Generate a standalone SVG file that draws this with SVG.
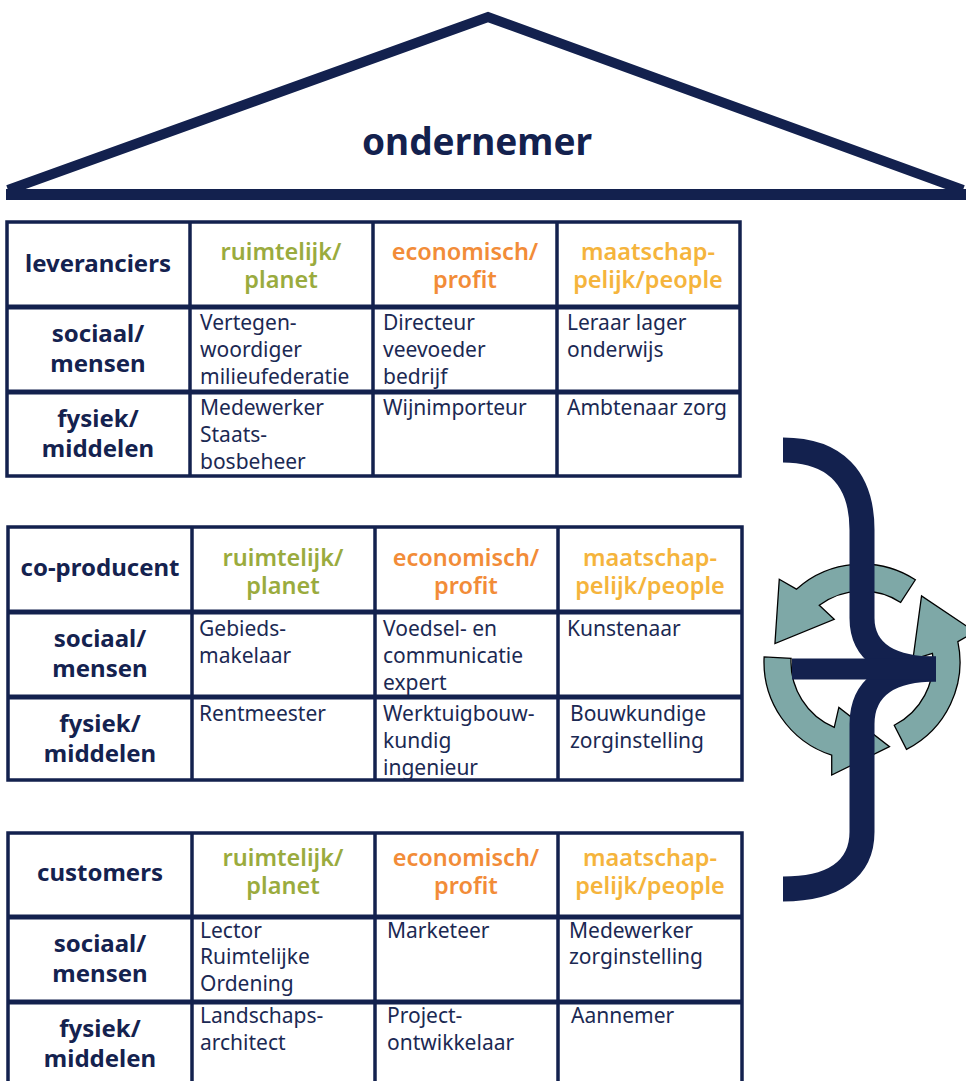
<svg xmlns="http://www.w3.org/2000/svg" width="966" height="1081" viewBox="0 0 966 1081">
<defs>
<style>
.ln{stroke:#13214e;fill:none}
.bx{stroke:#13214e;stroke-width:3.5;fill:#fff}
.v{stroke:#13214e;stroke-width:3.5}
.h{stroke:#13214e;stroke-width:5}
text{font-family:"Noto Sans","Open Sans","DejaVu Sans",sans-serif}
.lbl{font-size:24px;font-weight:700;fill:#14224f;text-anchor:middle}
.hd{font-size:23.5px;font-weight:600;text-anchor:middle}
.g{fill:#9aab3e}
.o{fill:#f28c38}
.y{fill:#f5b43c}
.b{font-size:21px;fill:#1b2953}
.title{font-size:37px;font-weight:700;fill:#13214e;text-anchor:middle}
.arr{fill:#7ea8a7;stroke:#000;stroke-width:1.3;stroke-linejoin:miter}
</style>
<path id="cyc" d="M53.37,-82.19 A98,98 0 0 0 -65.57,-72.83 L-82.73,-82.73 L-87.05,-18.5 L-27.78,-42.77 L-42.73,-56.7 A71,71 0 0 1 38.67,-59.55 Z"/>
</defs>
<rect width="966" height="1081" fill="#fff"/>

<g id="roof">
<polyline class="ln" points="8,190 488,17 963,190" stroke-width="10" stroke-linejoin="miter"/>
<line class="ln" x1="6" y1="194.5" x2="966" y2="194.5" stroke-width="11"/>
<text class="title" x="477" y="155">ondernemer</text>
</g>

<g id="table-leveranciers">
<rect class="bx" x="7" y="222" width="733" height="254"/>
<line class="v" x1="190" y1="222" x2="190" y2="476"/>
<line class="v" x1="373" y1="222" x2="373" y2="476"/>
<line class="v" x1="557" y1="222" x2="557" y2="476"/>
<line class="h" x1="7" y1="307" x2="740" y2="307"/>
<line class="h" x1="7" y1="392" x2="740" y2="392"/>
<text class="lbl" x="98" y="272">leveranciers</text>
<text class="hd g" x="281" y="260">ruimtelijk/</text>
<text class="hd g" x="281" y="288">planet</text>
<text class="hd o" x="465" y="260">economisch/</text>
<text class="hd o" x="465" y="288">profit</text>
<text class="hd y" x="648" y="260">maatschap-</text>
<text class="hd y" x="648" y="288">pelijk/people</text>
<text class="lbl" x="98" y="342">sociaal/</text>
<text class="lbl" x="98" y="372">mensen</text>
<text class="b" x="200" y="330">Vertegen-</text>
<text class="b" x="200" y="357">woordiger</text>
<text class="b" x="200" y="384">milieufederatie</text>
<text class="b" x="383" y="330">Directeur</text>
<text class="b" x="383" y="357">veevoeder</text>
<text class="b" x="383" y="384">bedrijf</text>
<text class="b" x="567" y="330">Leraar lager</text>
<text class="b" x="567" y="357">onderwijs</text>
<text class="lbl" x="98" y="427">fysiek/</text>
<text class="lbl" x="98" y="457">middelen</text>
<text class="b" x="200" y="415">Medewerker</text>
<text class="b" x="200" y="442">Staats-</text>
<text class="b" x="200" y="469">bosbeheer</text>
<text class="b" x="383" y="415">Wijnimporteur</text>
<text class="b" x="567" y="415">Ambtenaar zorg</text>
</g>

<g id="table-co-producent">
<rect class="bx" x="8" y="527" width="734" height="253"/>
<line class="v" x1="192" y1="527" x2="192" y2="780"/>
<line class="v" x1="375" y1="527" x2="375" y2="780"/>
<line class="v" x1="558" y1="527" x2="558" y2="780"/>
<line class="h" x1="8" y1="612" x2="742" y2="612"/>
<line class="h" x1="8" y1="697" x2="742" y2="697"/>
<text class="lbl" x="100" y="576">co-producent</text>
<text class="hd g" x="283" y="566">ruimtelijk/</text>
<text class="hd g" x="283" y="594">planet</text>
<text class="hd o" x="466" y="566">economisch/</text>
<text class="hd o" x="466" y="594">profit</text>
<text class="hd y" x="650" y="566">maatschap-</text>
<text class="hd y" x="650" y="594">pelijk/people</text>
<text class="lbl" x="100" y="647">sociaal/</text>
<text class="lbl" x="100" y="677">mensen</text>
<text class="b" x="199" y="636">Gebieds-</text>
<text class="b" x="199" y="663">makelaar</text>
<text class="b" x="383" y="636">Voedsel- en</text>
<text class="b" x="383" y="663">communicatie</text>
<text class="b" x="383" y="690">expert</text>
<text class="b" x="567" y="636">Kunstenaar</text>
<text class="lbl" x="100" y="732">fysiek/</text>
<text class="lbl" x="100" y="762">middelen</text>
<text class="b" x="199" y="721">Rentmeester</text>
<text class="b" x="383" y="721">Werktuigbouw-</text>
<text class="b" x="383" y="748">kundig</text>
<text class="b" x="383" y="775">ingenieur</text>
<text class="b" x="570" y="721">Bouwkundige</text>
<text class="b" x="570" y="748">zorginstelling</text>
</g>

<g id="table-customers">
<rect class="bx" x="8" y="833" width="734" height="262"/>
<line class="v" x1="192" y1="833" x2="192" y2="1095"/>
<line class="v" x1="375" y1="833" x2="375" y2="1095"/>
<line class="v" x1="558" y1="833" x2="558" y2="1095"/>
<line class="h" x1="8" y1="917" x2="742" y2="917"/>
<line class="h" x1="8" y1="1002" x2="742" y2="1002"/>
<text class="lbl" x="100" y="881">customers</text>
<text class="hd g" x="283" y="866">ruimtelijk/</text>
<text class="hd g" x="283" y="894">planet</text>
<text class="hd o" x="466" y="866">economisch/</text>
<text class="hd o" x="466" y="894">profit</text>
<text class="hd y" x="650" y="866">maatschap-</text>
<text class="hd y" x="650" y="894">pelijk/people</text>
<text class="lbl" x="100" y="952">sociaal/</text>
<text class="lbl" x="100" y="982">mensen</text>
<text class="b" x="200" y="938">Lector</text>
<text class="b" x="200" y="964">Ruimtelijke</text>
<text class="b" x="200" y="991">Ordening</text>
<text class="b" x="387" y="938">Marketeer</text>
<text class="b" x="569" y="938">Medewerker</text>
<text class="b" x="569" y="964">zorginstelling</text>
<text class="lbl" x="100" y="1037">fysiek/</text>
<text class="lbl" x="100" y="1067">middelen</text>
<text class="b" x="200" y="1023">Landschaps-</text>
<text class="b" x="200" y="1050">architect</text>
<text class="b" x="387" y="1023">Project-</text>
<text class="b" x="387" y="1050">ontwikkelaar</text>
<text class="b" x="571" y="1023">Aannemer</text>
</g>

<g id="cycle">
<use href="#cyc" class="arr" transform="translate(862,662)"/>
<use href="#cyc" class="arr" transform="translate(862,662) rotate(120)"/>
<use href="#cyc" class="arr" transform="translate(862,662) rotate(240)"/>
</g>

<g id="connectors">
<path class="ln" stroke-width="25" d="M783,450 C835,450 862,478 862,530 L862,618 C862,652 888,669 936,669"/>
<path class="ln" stroke-width="25" d="M936,669 C888,669 862,688 862,724 L862,832 C862,868 835,889 783,889"/>
<line class="ln" x1="792" y1="669" x2="936" y2="669" stroke-width="21"/>
</g>
</svg>
